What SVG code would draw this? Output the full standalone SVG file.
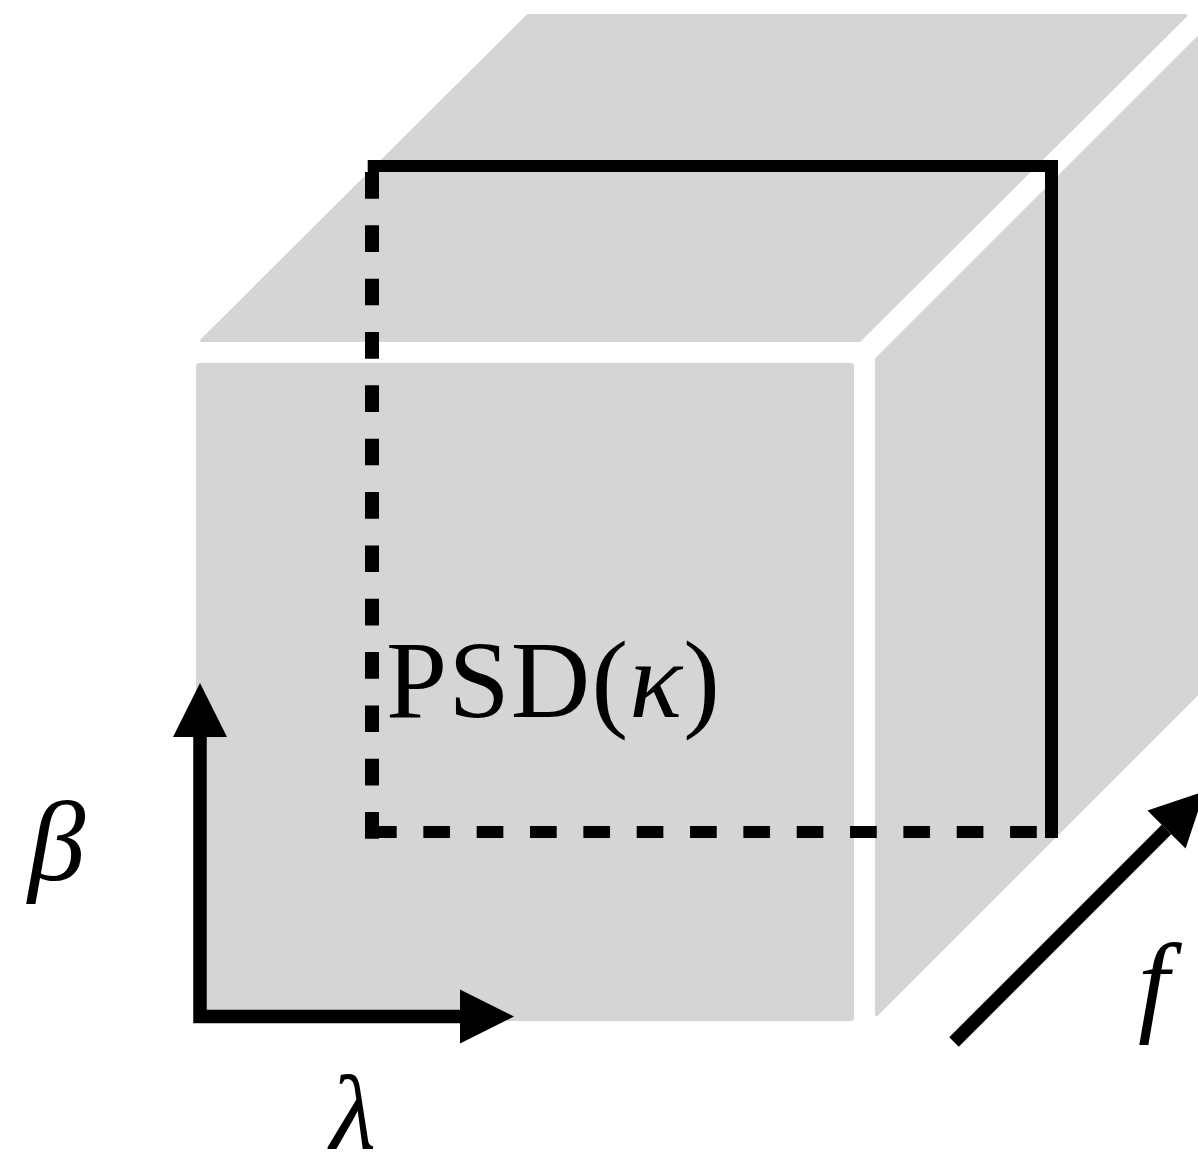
<svg xmlns="http://www.w3.org/2000/svg" width="1198" height="1171" viewBox="0 0 1198 1171">
  <style>
    .face { fill: #d5d5d5; stroke: #d5d5d5; stroke-width: 3; stroke-linejoin: round; }
    .ln { fill: none; stroke: #000; stroke-linecap: butt; stroke-linejoin: miter; }
    .dash { stroke-dasharray: 26.67 26.67; }
    .lbl { font-family: "Liberation Serif", "Times New Roman", serif; fill: #000; }
    .it { font-style: italic; }
  </style>
  <defs>
    <marker id="head" markerUnits="userSpaceOnUse" markerWidth="54" markerHeight="54" refX="0" refY="27" orient="auto-start-reverse" overflow="visible">
      <path d="M0,0 L54,27 L0,54 Z" fill="#000"/>
    </marker>
  </defs>
  <rect width="1198" height="1171" fill="#fff"/>
  <g id="top-face">
    <polygon class="face" points="201.5,340.5 528,15.5 1186,15.5 859.5,340.5"/>
  </g>
  <g id="front-face">
    <rect class="face" x="197.5" y="364.5" width="655" height="655" rx="2"/>
  </g>
  <g id="right-face">
    <polygon class="face" points="876.5,359 1200,35.5 1200,691.5 876.5,1015"/>
  </g>
  <g id="psd-slice">
    <line class="ln" x1="367.7" y1="166" x2="1058" y2="166" stroke-width="12"/>
    <line class="ln" x1="1051.5" y1="160" x2="1051.5" y2="838" stroke-width="13"/>
    <line class="ln dash" x1="372" y1="172" x2="372" y2="838.7" stroke-width="14"/>
    <line class="ln dash" x1="370" y1="832" x2="1045" y2="832" stroke-width="12"/>
  </g>
  <g id="connectors">
    <path class="ln" d="M460,1016.5 L200,1016.5 L200,737" stroke-width="13.5" marker-start="url(#head)" marker-end="url(#head)"/>
    <path class="ln" d="M954,1042 L1166.5,829.5" stroke-width="13.5" marker-end="url(#head)"/>
  </g>
  <g id="labels">
    <text class="lbl" x="386" y="717" font-size="110" textLength="334" lengthAdjust="spacing">PSD(<tspan class="it">κ</tspan>)</text>
    <text class="lbl it" x="28" y="880" font-size="115">β</text>
    <text class="lbl it" x="330" y="1148" font-size="106">λ</text>
    <text class="lbl it" x="1138" y="1021" font-size="112">f</text>
  </g>
</svg>
